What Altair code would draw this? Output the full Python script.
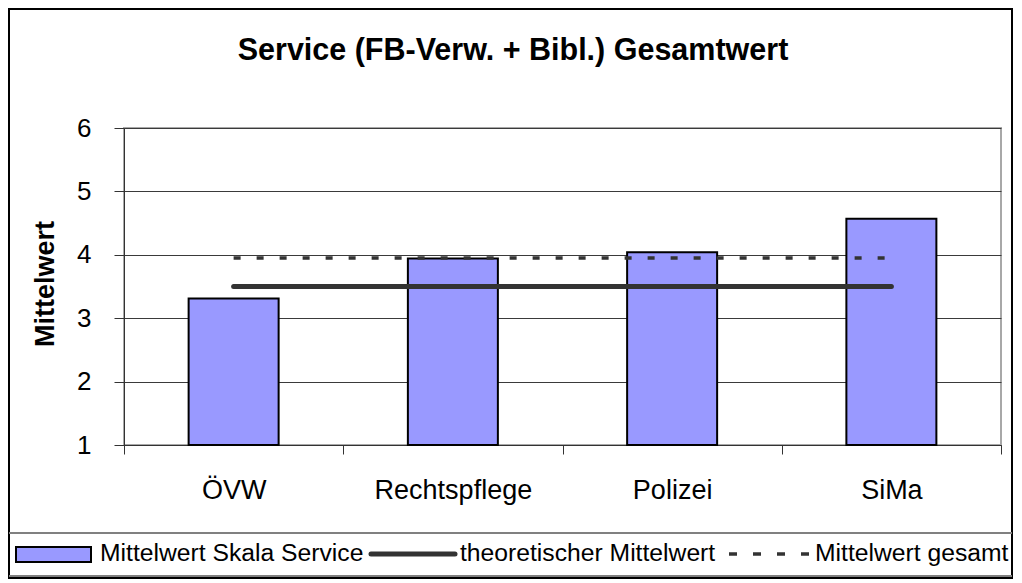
import altair as alt
import pandas as pd

# ---- data ----
categories = ["ÖVW", "Rechtspflege", "Polizei", "SiMa"]
scale_values = [3.31, 3.94, 4.04, 4.57]
theoretical_mean = [3.5, 3.5, 3.5, 3.5]
overall_mean = [3.95, 3.95, 3.95, 3.95]
y_ticks = [1, 2, 3, 4, 5, 6]
series_names = ["Mittelwert Skala Service", "theoretischer Mittelwert", "Mittelwert gesamt"]
chart_title = "Service (FB-Verw. + Bibl.) Gesamtwert"
y_title = "Mittelwert"

FONT = "Liberation Sans"
BAR_FILL = "#9999FF"
LINE_COL = "#333333"

bars_df = pd.DataFrame({"cat": categories, "val": scale_values})
theo_df = pd.DataFrame({"cat": categories, "val": theoretical_mean})
overall_df = pd.DataFrame({"cat": categories, "val": overall_mean})
one = pd.DataFrame({"k": [0]})

x_enc = alt.X(
    "cat:N",
    sort=categories,
    scale=alt.Scale(paddingInner=0, paddingOuter=0),
    axis=alt.Axis(
        title=None, labelAngle=0, labelFontSize=27, labelFont=FONT, labelColor="black",
        tickBand="extent", tickSize=9, tickColor=LINE_COL, domainColor=LINE_COL,
        labelPadding=23, grid=False,
    ),
)
y_scale = alt.Scale(domain=[1, 6], nice=False, zero=False)

bars = alt.Chart(bars_df).mark_bar(size=90, fill=BAR_FILL, stroke="black", strokeWidth=2).encode(
    x=x_enc,
    y=alt.Y(
        "val:Q", scale=y_scale,
        axis=alt.Axis(
            title=None, values=y_ticks, format="d", labelFontSize=26, labelFont=FONT, labelColor="black",
            tickSize=10, tickColor=LINE_COL, domainColor=LINE_COL, labelPadding=23,
            grid=True, gridColor="#3a3a3a", gridWidth=1,
        ),
    ),
    y2=alt.datum(1),
)

theo = alt.Chart(theo_df).mark_line(color=LINE_COL, strokeWidth=5, strokeCap="round").encode(
    x=alt.X("cat:N", sort=categories), y=alt.Y("val:Q", scale=y_scale)
)
overall = alt.Chart(overall_df).mark_line(color=LINE_COL, strokeWidth=3.5, strokeDash=[7, 16]).encode(
    x=alt.X("cat:N", sort=categories), y=alt.Y("val:Q", scale=y_scale)
)

# ---- decorations: title, axis title, legend box, outer frame ----
title = alt.Chart(pd.DataFrame({"t": [chart_title]})).mark_text(
    font=FONT, fontSize=30.5, fontWeight="bold", align="center", baseline="middle", color="black"
).encode(text="t:N", x=alt.value(389), y=alt.value(-77))

ytitle = alt.Chart(pd.DataFrame({"t": [y_title]})).mark_text(
    font=FONT, fontSize=27, fontWeight="bold", align="center", baseline="middle", angle=270, color="black"
).encode(text="t:N", x=alt.value(-78), y=alt.value(156))

frame = alt.Chart(one).mark_rect(fill=None, stroke="black", strokeWidth=2).encode(
    x=alt.value(-115), x2=alt.value(888), y=alt.value(-119), y2=alt.value(450)
)
leg_top = alt.Chart(one).mark_rule(color="#808080", strokeWidth=2).encode(
    x=alt.value(-115), x2=alt.value(888), y=alt.value(405)
)
leg_bot = alt.Chart(one).mark_rule(color="#808080", strokeWidth=2).encode(
    x=alt.value(-115), x2=alt.value(888), y=alt.value(448)
)
leg_sym1 = alt.Chart(one).mark_rect(fill=BAR_FILL, stroke="black", strokeWidth=2).encode(
    x=alt.value(-108), x2=alt.value(-33), y=alt.value(419), y2=alt.value(434)
)
leg_sym2 = alt.Chart(one).mark_rule(color=LINE_COL, strokeWidth=5, strokeCap="round").encode(
    x=alt.value(247), x2=alt.value(331), y=alt.value(426)
)
leg_sym3 = alt.Chart(one).mark_rule(color=LINE_COL, strokeWidth=3.5, strokeDash=[8, 16]).encode(
    x=alt.value(605), x2=alt.value(685), y=alt.value(426)
)
leg_text_x = [-24, 336, 691]
leg_texts = [
    alt.Chart(pd.DataFrame({"t": [name]})).mark_text(
        font=FONT, fontSize=24.7, align="left", baseline="middle", color="black"
    ).encode(text="t:N", x=alt.value(px), y=alt.value(426))
    for name, px in zip(series_names, leg_text_x)
]

chart = alt.layer(
    bars, overall, theo, title, ytitle, frame, leg_top, leg_bot, leg_sym1, leg_sym2, leg_sym3, *leg_texts
).properties(
    width=877,
    height=317,
    padding={"left": 116, "top": 120, "right": 13, "bottom": 136},
    autosize=alt.AutoSizeParams(type="none"),
    background="white",
).configure_view(stroke="#a8a8a8", strokeWidth=2)

chart.save("out.html", embed_options={"renderer": "svg", "actions": False})
